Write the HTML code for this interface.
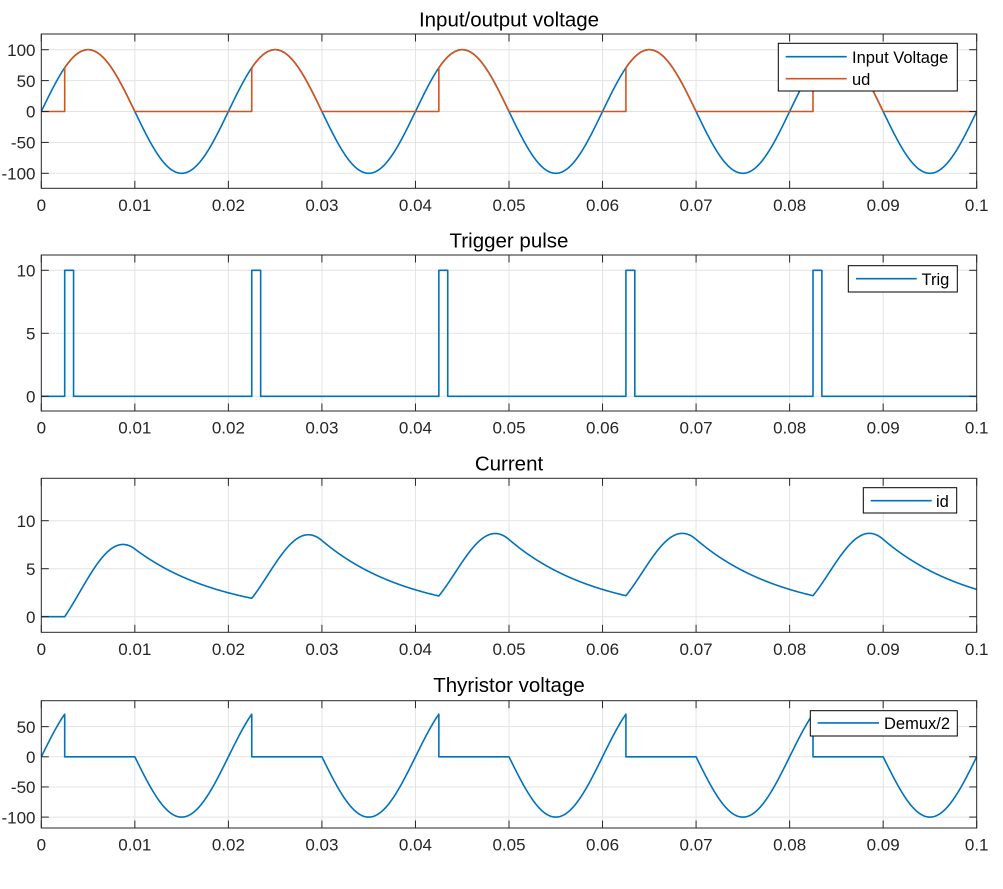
<!DOCTYPE html>
<html><head><meta charset="utf-8">
<style>
html,body{margin:0;padding:0;background:#fff;}
svg{display:block;}
text{font-family:"Liberation Sans",Arial,sans-serif;fill:#262626;}
.tl{font-size:17px;}
.tt{font-size:20.5px;fill:#000;}
.lg{font-size:16.5px;fill:#000;}
</style></head>
<body>
<svg id="fig" width="1003" height="889" viewBox="0 0 1003 889" xmlns="http://www.w3.org/2000/svg">
<rect x="0" y="0" width="1003" height="889" fill="#fff"/>
<defs>
<clipPath id="c1"><rect x="41.3" y="34" width="935.4" height="154.3"/></clipPath>
<clipPath id="c2"><rect x="41.3" y="255" width="935.4" height="156"/></clipPath>
<clipPath id="c3"><rect x="41.3" y="478.3" width="935.4" height="154"/></clipPath>
<clipPath id="c4"><rect x="41.3" y="700.7" width="935.4" height="127.3"/></clipPath>
</defs>
<g id="grid" stroke="#e3e3e3" stroke-width="1" fill="none"></g>
<g clip-path="url(#c1)" fill="none" stroke-width="1.6" stroke-linejoin="round">
  <path id="p_vin" stroke="#0072BD"/>
  <path id="p_ud" stroke="#D95319"/>
</g>
<g clip-path="url(#c2)" fill="none" stroke-width="1.6" stroke-linejoin="round">
  <path id="p_trig" stroke="#0072BD"/>
</g>
<g clip-path="url(#c3)" fill="none" stroke-width="1.6" stroke-linejoin="round">
  <path id="p_id" stroke="#0072BD"/>
</g>
<g clip-path="url(#c4)" fill="none" stroke-width="1.6" stroke-linejoin="round">
  <path id="p_thy" stroke="#0072BD"/>
</g>
<g id="axes" stroke="#262626" stroke-width="1" fill="none"></g>

<!-- titles -->
<text class="tt" x="509" y="26.5" text-anchor="middle">Input/output voltage</text>
<text class="tt" x="509" y="247.3" text-anchor="middle">Trigger pulse</text>
<text class="tt" x="509" y="470.5" text-anchor="middle">Current</text>
<text class="tt" x="509" y="691.9" text-anchor="middle">Thyristor voltage</text>

<g class="tl" text-anchor="middle">
<text x="41.3" y="211">0</text><text x="134.84" y="211">0.01</text><text x="228.38" y="211">0.02</text><text x="321.92" y="211">0.03</text><text x="415.46" y="211">0.04</text><text x="509" y="211">0.05</text><text x="602.54" y="211">0.06</text><text x="696.08" y="211">0.07</text><text x="789.62" y="211">0.08</text><text x="883.16" y="211">0.09</text><text x="976.7" y="211">0.1</text>
<text x="41.3" y="433.7">0</text><text x="134.84" y="433.7">0.01</text><text x="228.38" y="433.7">0.02</text><text x="321.92" y="433.7">0.03</text><text x="415.46" y="433.7">0.04</text><text x="509" y="433.7">0.05</text><text x="602.54" y="433.7">0.06</text><text x="696.08" y="433.7">0.07</text><text x="789.62" y="433.7">0.08</text><text x="883.16" y="433.7">0.09</text><text x="976.7" y="433.7">0.1</text>
<text x="41.3" y="655">0</text><text x="134.84" y="655">0.01</text><text x="228.38" y="655">0.02</text><text x="321.92" y="655">0.03</text><text x="415.46" y="655">0.04</text><text x="509" y="655">0.05</text><text x="602.54" y="655">0.06</text><text x="696.08" y="655">0.07</text><text x="789.62" y="655">0.08</text><text x="883.16" y="655">0.09</text><text x="976.7" y="655">0.1</text>
<text x="41.3" y="850.7">0</text><text x="134.84" y="850.7">0.01</text><text x="228.38" y="850.7">0.02</text><text x="321.92" y="850.7">0.03</text><text x="415.46" y="850.7">0.04</text><text x="509" y="850.7">0.05</text><text x="602.54" y="850.7">0.06</text><text x="696.08" y="850.7">0.07</text><text x="789.62" y="850.7">0.08</text><text x="883.16" y="850.7">0.09</text><text x="976.7" y="850.7">0.1</text>
</g>
<g class="tl" text-anchor="end">
<text x="35.5" y="55.9">100</text><text x="35.5" y="86.8">50</text><text x="35.5" y="117.7">0</text><text x="35.5" y="148.6">-50</text><text x="35.5" y="179.5">-100</text>
<text x="35.5" y="276.5">10</text><text x="35.5" y="339.5">5</text><text x="35.5" y="402.5">0</text>
<text x="35.5" y="526.9">10</text><text x="35.5" y="574.9">5</text><text x="35.5" y="622.9">0</text>
<text x="35.5" y="732.8">50</text><text x="35.5" y="763">0</text><text x="35.5" y="793.2">-50</text><text x="35.5" y="823.3">-100</text>
</g>

<!-- legends -->
<rect x="778.3" y="43.3" width="179" height="47.7" fill="#fff" stroke="#000" stroke-width="1"/>
<line x1="785.7" y1="56.7" x2="846.7" y2="56.7" stroke="#0072BD" stroke-width="1.6"/>
<line x1="785.7" y1="78.7" x2="846.7" y2="78.7" stroke="#D95319" stroke-width="1.6"/>
<text class="lg" x="852" y="62.8">Input Voltage</text>
<text class="lg" x="852" y="84.8">ud</text>

<rect x="848.3" y="265.7" width="109" height="26.3" fill="#fff" stroke="#000" stroke-width="1"/>
<line x1="856" y1="278.7" x2="916.7" y2="278.7" stroke="#0072BD" stroke-width="1.6"/>
<text class="lg" x="921.5" y="284.8">Trig</text>

<rect x="863.3" y="487.7" width="93.4" height="25.3" fill="#fff" stroke="#000" stroke-width="1"/>
<line x1="870.7" y1="500.7" x2="931.7" y2="500.7" stroke="#0072BD" stroke-width="1.6"/>
<text class="lg" x="936" y="506.8">id</text>

<rect x="810.3" y="710.7" width="147" height="25.3" fill="#fff" stroke="#000" stroke-width="1"/>
<line x1="817.7" y1="722.9" x2="879" y2="722.9" stroke="#0072BD" stroke-width="1.6"/>
<text class="lg" x="884" y="729">Demux/2</text>
</svg>
<script>
(function(){
var NS="http://www.w3.org/2000/svg";
var X0=41.3,X1=976.7;
function px(t){return X0+(t/0.1)*(X1-X0);}
var AX=[
 {top:34,bot:188.3,y0:111.5,k:0.618,yt:[-100,-50,0,50,100]},
 {top:255,bot:411,y0:396.3,k:12.6,yt:[0,5,10]},
 {top:478.3,bot:632.3,y0:616.7,k:9.6,yt:[0,5,10]},
 {top:700.7,bot:828,y0:756.8,k:0.603,yt:[-100,-50,0,50]}
];
var grid=document.getElementById('grid'),axes=document.getElementById('axes');
function ln(g,x1,y1,x2,y2){var l=document.createElementNS(NS,'line');l.setAttribute('x1',x1);l.setAttribute('y1',y1);l.setAttribute('x2',x2);l.setAttribute('y2',y2);g.appendChild(l);}
var TL=7.5;
AX.forEach(function(a){
  for(var i=1;i<10;i++){var x=px(i*0.01);ln(grid,x,a.top,x,a.bot);}
  a.yt.forEach(function(v){var y=a.y0-v*a.k;ln(grid,X0,y,X1,y);});
  var r=document.createElementNS(NS,'rect');r.setAttribute('x',X0);r.setAttribute('y',a.top);r.setAttribute('width',X1-X0);r.setAttribute('height',a.bot-a.top);axes.appendChild(r);
  for(var i=0;i<=10;i++){var x=px(i*0.01);ln(axes,x,a.bot,x,a.bot-TL);ln(axes,x,a.top,x,a.top+TL);}
  a.yt.forEach(function(v){var y=a.y0-v*a.k;ln(axes,X0,y,X0+TL,y);ln(axes,X1,y,X1-TL,y);});
});
function vin(t){return 100*Math.sin(2*Math.PI*50*t);}
function P(a,pts){var s='';for(var i=0;i<pts.length;i++){s+=(i?'L':'M')+px(pts[i][0]).toFixed(2)+','+(a.y0-pts[i][1]*a.k).toFixed(2);}return s;}
var st=5e-5,k,j,b,t;
var pv=[];for(j=0;j<=2000;j++){t=j*st;pv.push([t,vin(t)]);}
document.getElementById('p_vin').setAttribute('d',P(AX[0],pv));
var pu=[];
for(k=0;k<5;k++){b=0.02*k;pu.push([b,0],[b+0.0025,0]);
 for(j=0;j<=150;j++){t=b+0.0025+j*st;pu.push([t,vin(t)]);}
 pu.push([b+0.01,0],[b+0.02,0]);}
document.getElementById('p_ud').setAttribute('d',P(AX[0],pu));
var pt=[];
for(k=0;k<5;k++){b=0.02*k;
 for(j=0;j<=50;j++){t=b+j*st;pt.push([t,vin(t)]);}
 pt.push([b+0.0025,0],[b+0.01,0]);
 for(j=0;j<=200;j++){t=b+0.01+j*st;pt.push([t,vin(t)]);}}
document.getElementById('p_thy').setAttribute('d',P(AX[3],pt));
var pg=[];
for(k=0;k<5;k++){b=0.02*k;pg.push([b,0],[b+0.0025,0],[b+0.0025,10],[b+0.00345,10],[b+0.00345,0]);}
pg.push([0.1,0]);
document.getElementById('p_trig').setAttribute('d',P(AX[1],pg));
var R=5.15,tau=0.0096,dt=1e-6,e=Math.exp(-dt/tau),cur=0,pi=[[0,0]];
for(j=1;j<=100000;j++){t=(j-0.5)*dt;var ph=t%0.02;var v=(ph>=0.0025&&ph<0.01)?vin(t):0;
 cur=cur*e+(v/R)*(1-e);if(cur<0)cur=0;
 if(j%50===0)pi.push([j*dt,cur]);}
document.getElementById('p_id').setAttribute('d',P(AX[2],pi));
})();
</script>
</body></html>
